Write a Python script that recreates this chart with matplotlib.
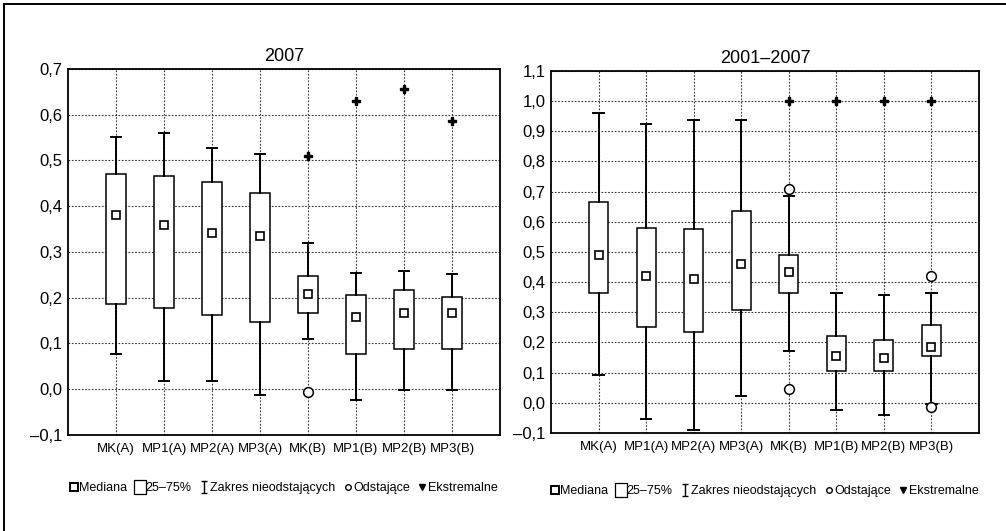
#!/usr/bin/env python3
"""Two box-plot panels (2007 and 2001-2007) with median squares, outliers and extremes."""
import matplotlib
matplotlib.use("Agg")
import matplotlib.pyplot as plt
from matplotlib.lines import Line2D
from matplotlib.path import Path

plt.rcParams["font.family"] = ["Liberation Sans", "DejaVu Sans"]

CATEGORIES = ["MK(A)", "MP1(A)", "MP2(A)", "MP3(A)", "MK(B)", "MP1(B)", "MP2(B)", "MP3(B)"]

# panel 1: 2007
WHISHI_07 = [0.551, 0.559, 0.527, 0.514, 0.319, 0.255, 0.258, 0.251]
Q3_07 = [0.470, 0.466, 0.454, 0.430, 0.248, 0.207, 0.218, 0.202]
MED_07 = [0.381, 0.360, 0.341, 0.336, 0.209, 0.158, 0.166, 0.166]
Q1_07 = [0.186, 0.178, 0.162, 0.146, 0.166, 0.076, 0.089, 0.089]
WHISLO_07 = [0.078, 0.017, 0.017, -0.012, 0.110, -0.024, -0.002, -0.002]
OUT_07 = [[], [], [], [], [-0.007], [], [], []]
EXT_07 = [[], [], [], [], [0.510], [0.631], [0.656], [0.586]]
YTICKS_07 = [-0.1, 0.0, 0.1, 0.2, 0.3, 0.4, 0.5, 0.6, 0.7]
YLABELS_07 = ["–0,1", "0,0", "0,1", "0,2", "0,3", "0,4", "0,5", "0,6", "0,7"]

# panel 2: 2001-2007
WHISHI_ALL = [0.962, 0.925, 0.939, 0.939, 0.687, 0.363, 0.357, 0.363]
Q3_ALL = [0.667, 0.581, 0.576, 0.636, 0.490, 0.221, 0.209, 0.258]
MED_ALL = [0.491, 0.420, 0.411, 0.459, 0.433, 0.155, 0.149, 0.185]
Q1_ALL = [0.363, 0.252, 0.235, 0.307, 0.363, 0.104, 0.104, 0.155]
WHISLO_ALL = [0.093, -0.053, -0.091, 0.021, 0.173, -0.023, -0.041, -0.005]
OUT_ALL = [[], [], [], [], [0.710, 0.047], [], [], [0.419, -0.013]]
EXT_ALL = [[], [], [], [], [1.0], [1.0], [1.0], [1.0]]
YTICKS_ALL = [-0.1, 0.0, 0.1, 0.2, 0.3, 0.4, 0.5, 0.6, 0.7, 0.8, 0.9, 1.0, 1.1]
YLABELS_ALL = ["–0,1", "0,0", "0,1", "0,2", "0,3", "0,4", "0,5", "0,6", "0,7",
               "0,8", "0,9", "1,0", "1,1"]

LEGEND_LABELS = ["Mediana", "25–75%", "Zakres nieodstających", "Odstające", "Ekstremalne"]

IBEAM = Path([(-0.5, 1), (0.5, 1), (0, 1), (0, -1), (-0.5, -1), (0.5, -1)],
             [Path.MOVETO, Path.LINETO, Path.MOVETO, Path.LINETO, Path.MOVETO, Path.LINETO])
RECT = [(-0.4, -0.5), (0.4, -0.5), (0.4, 0.5), (-0.4, 0.5), (-0.4, -0.5)]


def draw_panel(ax, title, whishi, q3, med, q1, whislo, outs, exts, yticks, ylabels):
    pos = list(range(1, len(CATEGORIES) + 1))
    stats = [dict(whislo=lo, q1=a, med=m, q3=b, whishi=hi)
             for lo, a, m, b, hi in zip(whislo, q1, med, q3, whishi)]
    ax.bxp(stats, positions=pos, widths=0.4, capwidths=0.22, showfliers=False,
           patch_artist=True,
           boxprops=dict(facecolor="white", edgecolor="black", linewidth=1.1),
           whiskerprops=dict(color="black", linewidth=1.4),
           capprops=dict(color="black", linewidth=1.4),
           medianprops=dict(linestyle="none"), zorder=3)
    ax.plot(pos, med, linestyle="none", marker="s", markersize=5.5,
            markerfacecolor="white", markeredgecolor="black", markeredgewidth=1.2, zorder=5)
    for p, vals in zip(pos, outs):
        if vals:
            ax.plot([p] * len(vals), vals, linestyle="none", marker="o", markersize=7,
                    markerfacecolor="white", markeredgecolor="black",
                    markeredgewidth=1.1, zorder=6)
    for p, vals in zip(pos, exts):
        if vals:
            ax.plot([p] * len(vals), vals, linestyle="none", marker="P", markersize=6,
                    color="black", zorder=6)

    ax.set_xlim(0, len(CATEGORIES) + 1)
    ax.set_ylim(yticks[0], yticks[-1])
    ax.set_xticks(pos)
    ax.set_xticklabels(CATEGORIES, fontsize=9.5)
    ax.set_yticks(yticks)
    ax.set_yticklabels(ylabels, fontsize=12)
    ax.tick_params(length=0, pad=4)
    ax.tick_params(axis="x", pad=6)
    ax.grid(True, linestyle=(0, (1.5, 1.5)), color="#333333", linewidth=0.8)
    ax.set_axisbelow(True)
    for sp in ax.spines.values():
        sp.set_linewidth(1.3)
    ax.set_title(title, fontsize=13, pad=6)


fig = plt.figure(figsize=(10.06, 5.31), dpi=100)
ax1 = fig.add_axes([0.0676, 0.1808, 0.4294, 0.6893])
ax2 = fig.add_axes([0.5477, 0.1846, 0.4254, 0.6817])

draw_panel(ax1, "2007", WHISHI_07, Q3_07, MED_07, Q1_07, WHISLO_07, OUT_07, EXT_07,
           YTICKS_07, YLABELS_07)
draw_panel(ax2, "2001–2007", WHISHI_ALL, Q3_ALL, MED_ALL, Q1_ALL, WHISLO_ALL, OUT_ALL,
           EXT_ALL, YTICKS_ALL, YLABELS_ALL)

handles = [
    Line2D([], [], linestyle="none", marker="s", markersize=6, markerfacecolor="white",
           markeredgecolor="black", markeredgewidth=1.4),
    Line2D([], [], linestyle="none", marker=RECT, markersize=10, markerfacecolor="none",
           markeredgecolor="black", markeredgewidth=0.9),
    Line2D([], [], linestyle="none", marker=IBEAM, markersize=9, color="black",
           markeredgewidth=1.0),
    Line2D([], [], linestyle="none", marker="o", markersize=4, markerfacecolor="white",
           markeredgecolor="black", markeredgewidth=1.0),
    Line2D([], [], linestyle="none", marker="v", markersize=5, color="black"),
]
for ax in (ax1, ax2):
    ax.legend(handles, LEGEND_LABELS, loc="center", ncol=5, frameon=False, fontsize=9,
              handlelength=0.6, handletextpad=0.15, columnspacing=0.7,
              bbox_to_anchor=(0.5, -0.145 if ax is ax1 else -0.16),
              bbox_transform=ax.transAxes)

# outer frame (top and left edges only)
fig.add_artist(Line2D([0.004, 1.0], [0.992, 0.992], transform=fig.transFigure,
                      color="black", linewidth=1.4))
fig.add_artist(Line2D([0.004, 0.004], [0.0, 0.992], transform=fig.transFigure,
                      color="black", linewidth=1.4))

fig.savefig("out.png", dpi=100)
